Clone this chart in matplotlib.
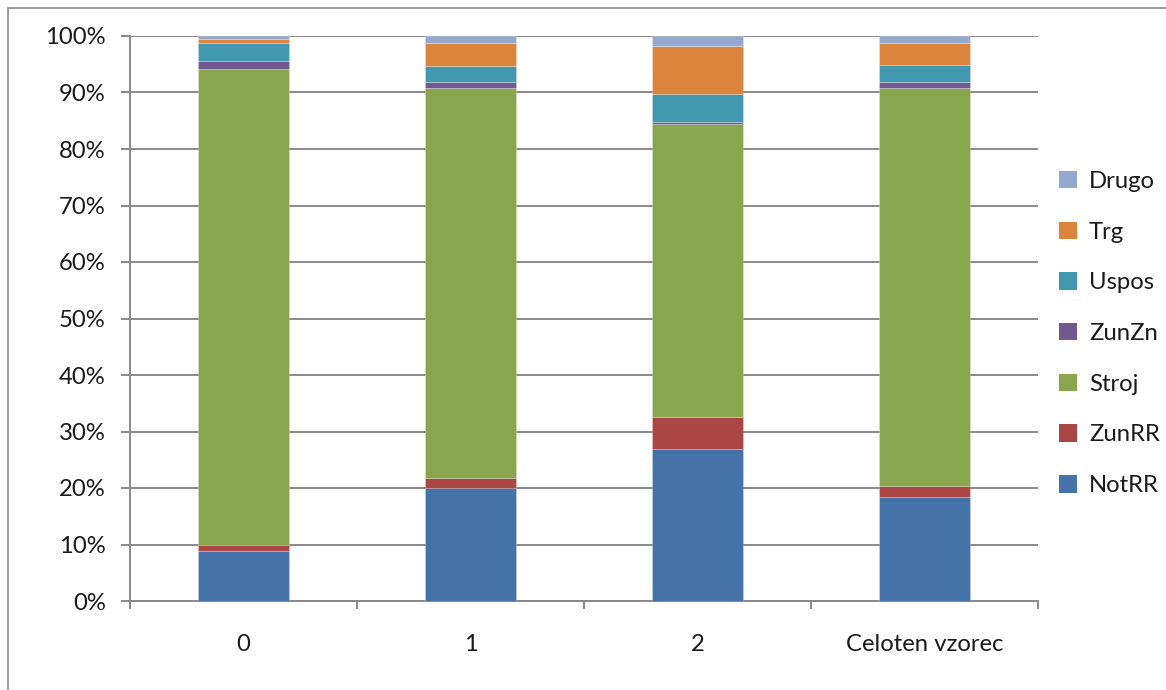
import matplotlib
matplotlib.use("Agg")
import matplotlib.pyplot as plt
from matplotlib.patches import Patch, Rectangle
from matplotlib.ticker import FixedLocator, PercentFormatter

plt.rcParams['font.family'] = ['Lato', 'DejaVu Sans']

categories = ["0", "1", "2", "Celoten vzorec"]
series_names = ["NotRR", "ZunRR", "Stroj", "ZunZn", "Uspos", "Trg", "Drugo"]

# shares in percent, per category
not_rr = [8.9, 20.0, 26.9, 18.35]
zun_rr = [0.95, 1.8, 5.6, 2.05]
stroj = [84.35, 69.0, 51.9, 70.4]
zun_zn = [1.3, 1.1, 0.4, 1.1]
uspos = [3.2, 2.8, 4.9, 3.05]
trg = [0.8, 4.0, 8.6, 3.85]
drugo = [0.5, 1.3, 1.7, 1.2]

series_values = [not_rr, zun_rr, stroj, zun_zn, uspos, trg, drugo]
colors = ["#4572A7", "#AA4643", "#89A54E", "#71588F", "#4198AF", "#DB843D", "#93A9CF"]

W, H = 1166, 690
FS = 17.2
TXT = "#1a1a1a"
fig = plt.figure(figsize=(W / 100, H / 100), dpi=100)
ax = fig.add_axes([130 / W, 1 - 601 / H, (1038 - 130) / W, (601 - 36) / H])

grid_color = "#898989"
x = list(range(len(categories)))
bottom = [0.0] * len(categories)
for name, vals, col in zip(series_names, series_values, colors):
    ax.bar(x, vals, width=0.4, bottom=bottom, color=col, label=name,
           edgecolor=(1, 1, 1, 0.35), linewidth=0.5, zorder=3)
    bottom = [b + v for b, v in zip(bottom, vals)]

ax.set_xlim(-0.5, len(categories) - 0.5)
ax.set_ylim(0, 100)

ax.yaxis.set_major_locator(FixedLocator(range(0, 101, 10)))
ax.yaxis.set_major_formatter(PercentFormatter(decimals=0))
ax.yaxis.grid(True, color=grid_color, linewidth=1.4, zorder=0)
ax.set_axisbelow(True)

ax.set_xticks(x)
ax.set_xticklabels(categories)
ax.set_xticks([i - 0.5 for i in range(len(categories) + 1)], minor=True)
ax.tick_params(axis='x', which='major', length=0, pad=24, labelsize=FS, colors=TXT)
ax.tick_params(axis='x', which='minor', length=5.5, width=1.4, color=grid_color)
ax.tick_params(axis='y', which='major', length=6.5, width=1.4, color=grid_color,
               pad=11, labelsize=FS, labelcolor=TXT)

for side in ("top", "right"):
    ax.spines[side].set_visible(False)
for side in ("left", "bottom"):
    ax.spines[side].set_color(grid_color)
    ax.spines[side].set_linewidth(1.4)

handles = [Patch(facecolor=c, label=n) for n, c in zip(series_names, colors)][::-1]
fig.legend(handles=handles, loc="center left", bbox_to_anchor=(1059 / W, 1 - 333.5 / H),
           frameon=False, fontsize=FS, handlelength=0.75, handleheight=0.75,
           handletextpad=0.5, labelspacing=1.24, borderpad=0, borderaxespad=0,
           labelcolor=TXT)

# outer chart frame
fig.patches.append(Rectangle((7.5 / W, -0.1), 1.2, 1 - 7.5 / H + 0.1,
                             transform=fig.transFigure, fill=False,
                             edgecolor="#8a8a8a", linewidth=1.2))

fig.savefig("out.png", dpi=100)
